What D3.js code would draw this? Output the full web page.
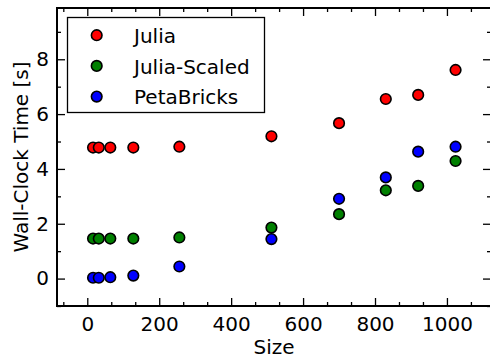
<!DOCTYPE html>
<html><head><meta charset="utf-8">
<script src="https://cdn.jsdelivr.net/npm/d3@7"></script>
<style>
html,body{margin:0;padding:0;background:#fff;}
svg{display:block;font-family:"DejaVu Sans",sans-serif;}
</style></head>
<body>
<svg id="chart" width="490" height="359"></svg>
<script>
const sizes = [16, 32, 64, 128, 256, 512, 700, 830, 920, 1024];
const julia = [4.78, 4.78, 4.78, 4.78, 4.81, 5.19, 5.67, 6.55, 6.70, 7.61];
const juliaScaled = [1.46, 1.46, 1.46, 1.46, 1.50, 1.86, 2.35, 3.22, 3.38, 4.29];
const petaBricks = [0.03, 0.03, 0.05, 0.11, 0.44, 1.44, 2.91, 3.69, 4.63, 4.81];
const seriesNames = ["Julia", "Julia-Scaled", "PetaBricks"];
const seriesColors = ["#ff0000", "#008000", "#0000ff"];
const xTicks = [0, 200, 400, 600, 800, 1000];
const yTicks = [0, 2, 4, 6, 8];

const svg = d3.select("#chart");
const L = 57, R = 491, T = 8, B = 306;
const x = d3.scaleLinear().domain([-84.2, 1122.5]).range([L, R]);
const y = d3.scaleLinear().domain([-1, 9.87]).range([B, T]);

const xMinor = d3.range(-66.6667, 1120, 66.6667).filter(v => Math.abs(Math.round(v/200)*200 - v) > 1);
const yMinor = d3.range(-1, 9.9, 1).filter(v => Math.round(v) % 2 !== 0);

function styleAxis(g){
  g.select(".domain").remove();
  g.selectAll(".tick line").attr("stroke","#000").attr("stroke-width",1.3);
  g.selectAll(".tick text").attr("font-size","20px").attr("fill","#000").attr("font-family","DejaVu Sans");
}
// bottom
svg.append("g").attr("transform",`translate(0,${B})`)
  .call(d3.axisBottom(x).tickValues(xTicks).tickSize(-8).tickPadding(11).tickFormat(d3.format("d")))
  .call(styleAxis);
svg.append("g").attr("transform",`translate(0,${B})`)
  .call(d3.axisBottom(x).tickValues(xMinor).tickSize(-4).tickFormat(""))
  .call(styleAxis);
// top
svg.append("g").attr("transform",`translate(0,${T})`)
  .call(d3.axisTop(x).tickValues(xTicks).tickSize(-8).tickFormat(""))
  .call(styleAxis);
svg.append("g").attr("transform",`translate(0,${T})`)
  .call(d3.axisTop(x).tickValues(xMinor).tickSize(-4).tickFormat(""))
  .call(styleAxis);
// left
svg.append("g").attr("transform",`translate(${L},0)`)
  .call(d3.axisLeft(y).tickValues(yTicks).tickSize(-8).tickPadding(8).tickFormat(d3.format("d")))
  .call(styleAxis);
svg.append("g").attr("transform",`translate(${L},0)`)
  .call(d3.axisLeft(y).tickValues(yMinor).tickSize(-4).tickFormat(""))
  .call(styleAxis);
// right
svg.append("g").attr("transform",`translate(${R},0)`)
  .call(d3.axisRight(y).tickValues(yTicks).tickSize(-8).tickFormat(""))
  .call(styleAxis);
svg.append("g").attr("transform",`translate(${R},0)`)
  .call(d3.axisRight(y).tickValues(yMinor).tickSize(-4).tickFormat(""))
  .call(styleAxis);

// frame
svg.append("rect").attr("x",L).attr("y",T).attr("width",R-L).attr("height",B-T)
  .attr("fill","none").attr("stroke","#000").attr("stroke-width",2);

// points
const series = [julia, juliaScaled, petaBricks];
series.forEach((vals, i) => {
  svg.append("g").selectAll("circle").data(sizes.map((s,j)=>[s, vals[j]])).join("circle")
    .attr("cx", d => x(d[0])).attr("cy", d => y(d[1])).attr("r", 5.3)
    .attr("fill", seriesColors[i]).attr("stroke","#000").attr("stroke-width",1.6);
});

// legend
const lg = svg.append("g");
lg.append("rect").attr("x",67.5).attr("y",17.5).attr("width",197).attr("height",95)
  .attr("fill","#fff").attr("stroke","#000").attr("stroke-width",1.3);
seriesNames.forEach((n,i) => {
  const cy = 35.2 + i*30.7;
  lg.append("circle").attr("cx",96.7).attr("cy",cy).attr("r",5.3)
    .attr("fill",seriesColors[i]).attr("stroke","#000").attr("stroke-width",1.6);
  lg.append("text").attr("x",134).attr("y",cy+7.8).attr("font-size","20px").text(n);
});

// axis labels
svg.append("text").attr("x",(L+R)/2).attr("y",354).attr("text-anchor","middle")
  .attr("font-size","20px").text("Size");
svg.append("text").attr("transform",`translate(27.5,${(T+B)/2}) rotate(-90)`)
  .attr("text-anchor","middle").attr("font-size","20px").text("Wall-Clock Time [s]");
</script>
</body></html>
